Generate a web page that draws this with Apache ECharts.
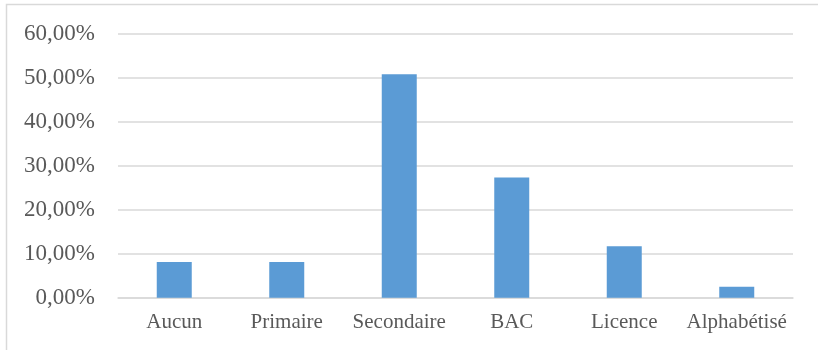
<!DOCTYPE html>
<html>
<head>
<meta charset="utf-8">
<title>Niveau d'instruction</title>
<script src="https://cdn.jsdelivr.net/npm/echarts@6/dist/echarts.min.js"></script>
<style>
  html, body { margin: 0; padding: 0; background: #ffffff; }
  #chart { width: 818px; height: 350px; }
</style>
</head>
<body>
<div id="chart"></div>
<script>
// Share of respondents by education level (percent)
const categories = ['Aucun', 'Primaire', 'Secondaire', 'BAC', 'Licence', 'Alphabétisé'];
const shares = [8.1, 8.1, 50.8, 27.3, 11.7, 2.5];
const yTicks = [0, 10, 20, 30, 40, 50, 60];

const textColor = '#595959';
const gridColor = '#d9d9d9';
const fontFamily = '"Liberation Serif", "Times New Roman", serif';

const chart = echarts.init(document.getElementById('chart'), null, { renderer: 'canvas' });

chart.setOption({
  animation: false,
  backgroundColor: '#ffffff',
  graphic: [{
    // chart frame, its right and bottom edges run off the page
    type: 'rect',
    shape: { x: 6.5, y: 4.5, width: 1000, height: 1000 },
    style: { fill: 'none', stroke: gridColor, lineWidth: 1.5 },
    silent: true,
    z: -1
  }],
  grid: { left: 118, right: 25, top: 33.7, bottom: 52.3, containLabel: false },
  xAxis: {
    type: 'category',
    data: categories,
    axisLine: { show: true, lineStyle: { color: gridColor, width: 1.5 } },
    axisTick: { show: false },
    axisLabel: { color: textColor, fontFamily: fontFamily, fontSize: 21, margin: 14, interval: 0 }
  },
  yAxis: {
    type: 'value',
    min: yTicks[0],
    max: yTicks[yTicks.length - 1],
    interval: yTicks[1] - yTicks[0],
    axisLine: { show: false },
    axisTick: { show: false },
    splitLine: { lineStyle: { color: gridColor, width: 1.5 } },
    axisLabel: {
      color: textColor,
      fontFamily: fontFamily,
      fontSize: 23,
      margin: 23,
      formatter: v => v.toFixed(2).replace('.', ',') + '%'
    }
  },
  series: [{
    type: 'bar',
    data: shares,
    barWidth: 35,
    itemStyle: { color: '#5b9bd5' }
  }]
});
</script>
</body>
</html>
